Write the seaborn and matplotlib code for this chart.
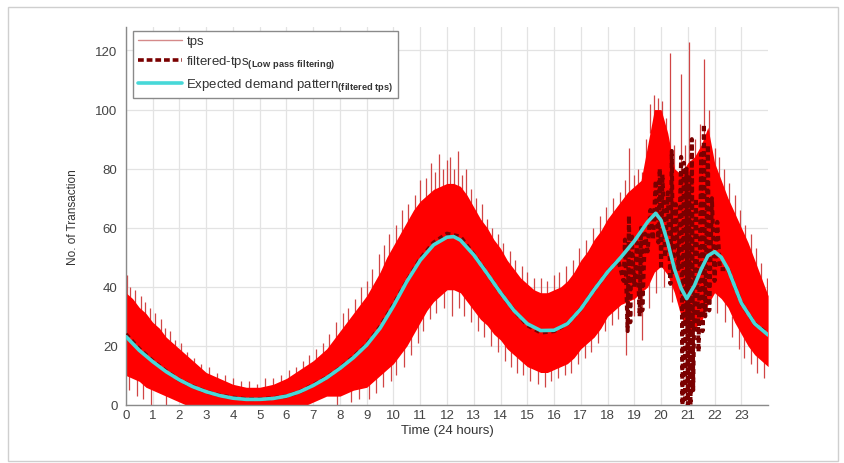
import numpy as np
import pandas as pd
import seaborn as sns
import matplotlib
matplotlib.use("Agg")
import matplotlib.pyplot as plt
from matplotlib.lines import Line2D
from matplotlib.patches import Rectangle

# ---------------- data ----------------
# noisy tps band: upper / lower edge, every quarter hour 0..24
band_hours = [i / 4 for i in range(97)]
tps_high = [38, 36, 33, 31, 28, 26, 23, 21, 19, 17, 15, 13, 11, 10, 9, 8,
            7, 6.5, 6, 6, 6, 6.5, 7, 8, 9, 10.5, 12, 13.5, 15, 17, 19, 22,
            25, 28, 31, 34, 37, 41, 45, 50, 54, 58, 62, 66, 69, 71, 73, 74,
            75, 75, 74, 71, 67, 63, 60, 56, 53, 49, 46, 43, 41, 39, 38, 38,
            39, 40, 42, 45, 49, 52, 56, 59, 63, 66, 69, 72, 74, 76, 88, 100,
            100, 92, 80, 78, 82, 84, 88, 94, 82, 76, 70, 65, 60, 55, 49, 43,
            37]
tps_low = [10, 9, 8, 6, 5, 4, 3, 2, 1, 0, 0, 0, 0, 0, 0, 0,
           0, 0, 0, 0, 0, 0, 0, 0, 0, 0, 0, 0, 1, 2, 3, 3,
           3, 4, 5, 5.5, 6, 8, 10, 12, 14, 17, 20, 24, 28, 32, 35, 37,
           39, 39, 38, 35, 32, 29, 27, 24, 22, 19, 17, 15, 13, 12, 11, 11,
           12, 13, 14, 16, 19, 21, 23, 26, 30, 32, 34, 35, 36, 38, 40, 45,
           47, 44, 38, 30, 25, 26, 28, 34, 38, 36, 33, 28, 24, 20, 17, 15,
           13]

# thin spikes of the raw tps trace: hour, from, to
spike_hours = [0.05, 0.15, 0.35, 0.55, 0.7, 0.9, 1.1, 1.3, 1.45, 1.65, 1.85, 2.05,
               2.3, 2.55, 2.8, 3.1, 3.4, 3.7, 4.0, 4.3, 4.6, 4.9, 5.2, 5.5, 5.8,
               6.1, 6.35, 6.6, 6.85, 7.1, 7.35, 7.6, 7.85, 8.1, 8.3, 8.55, 8.8,
               9.0, 9.2, 9.45, 9.65, 9.85, 10.1, 10.3, 10.55, 10.8, 11.0, 11.2,
               11.4, 11.55, 11.7, 11.85, 12.0, 12.1, 12.25, 12.4, 12.55, 12.7,
               12.9, 13.1, 13.3, 13.5, 13.7, 13.9, 14.1, 14.35, 14.55, 14.8, 15.0,
               15.25, 15.5, 15.75, 16.0, 16.2, 16.45, 16.7, 16.95, 17.2, 17.45,
               17.7, 17.95, 18.2, 18.45, 18.65, 18.8, 19.0, 19.15, 19.3, 19.45,
               19.6, 19.75, 19.9, 20.05, 20.2, 20.35, 20.5, 20.75, 20.9, 21.05,
               21.25, 21.45, 21.6, 21.8, 22.0, 22.15, 22.35, 22.55, 22.75, 22.95,
               23.15, 23.35, 23.55, 23.75, 23.95,
               0.1, 0.4, 0.65, 0.95, 1.5, 7.9, 8.4, 8.7, 9.1, 9.35, 9.6, 9.9, 10.1,
               10.4, 10.65, 10.9, 11.1, 11.35, 11.6, 11.9, 12.2, 12.45, 12.65,
               12.9, 13.15, 13.4, 13.65, 13.9, 14.15, 14.4, 14.6, 14.85, 15.1,
               15.4, 15.65, 15.9, 16.15, 16.4, 16.65, 16.9, 17.15, 17.4, 17.65,
               17.9, 18.15, 18.4, 18.7, 19.0, 19.3, 19.55, 19.8, 20.1, 20.4, 22.1,
               22.4, 22.65, 22.9, 23.1, 23.35, 23.6, 23.85]
spike_from = [35, 34, 32, 30, 28, 26, 24, 22, 20, 18, 16, 14,
              12, 10, 8, 7, 6, 5, 4, 3, 3, 3, 3, 4, 5,
              6, 7, 9, 10, 12, 14, 17, 20, 23, 25, 28, 31,
              34, 37, 41, 45, 49, 52, 56, 60, 63, 66, 68,
              70, 70, 71, 72, 72, 72, 72, 72, 70, 68,
              65, 62, 59, 56, 53, 50, 47, 44, 42, 39, 37,
              35, 35, 35, 36, 37, 39, 41, 45, 48, 52,
              55, 59, 62, 66, 68, 70, 70, 72, 72, 80,
              92, 96, 96, 96, 88, 85, 76, 74, 76, 78,
              80, 84, 88, 88, 78, 74, 70, 66, 62, 57,
              53, 49, 45, 40, 35,
              5, 3, 2, 0, 0, 0, 1, 2, 2, 4, 6, 8, 10,
              13, 17, 21, 25, 29, 31, 33, 30, 33, 30,
              28, 25, 23, 20, 18, 15, 13, 11, 10, 8,
              7, 6, 8, 9, 10, 11, 14, 16, 18, 21,
              25, 27, 29, 17, 30, 22, 33, 38, 40, 35, 31,
              28, 23, 19, 16, 14, 11, 9]
spike_to = [44, 40, 39, 37, 35, 33, 31, 29, 26, 25, 22, 21,
            18, 16, 14, 13, 11, 10, 9, 8, 8, 7, 9, 9, 10,
            12, 13, 15, 17, 19, 21, 24, 28, 31, 33, 36, 40,
            42, 46, 51, 54, 58, 61, 66, 68, 71, 76, 77,
            82, 79, 85, 80, 83, 84, 80, 86, 78, 80,
            73, 70, 68, 63, 60, 58, 55, 52, 49, 47, 45,
            43, 43, 42, 44, 45, 47, 49, 53, 56, 60,
            64, 67, 70, 72, 76, 87, 78, 80, 79, 90,
            102, 105, 104, 103, 97, 119, 88, 112, 88, 123,
            90, 95, 117, 100, 87, 84, 80, 75, 71, 66,
            61, 58, 53, 48, 43,
            12, 10, 9, 7, 4, 5, 6, 8, 9, 11, 13, 15, 17,
            21, 25, 30, 33, 36, 38, 40, 41, 40, 37,
            35, 32, 30, 27, 25, 22, 20, 18, 16, 14,
            13, 13, 14, 15, 16, 18, 21, 23, 25, 28,
            32, 34, 36, 37, 38, 40, 42, 47, 49, 42, 40,
            35, 30, 27, 25, 22, 19, 16]

# low-pass filtered tps
filt_hours = [0.0, 0.5, 1.0, 1.5, 2.0, 2.5, 3.0, 3.5, 4.0, 4.5, 5.0, 5.5, 6.0, 6.5,
              7.0, 7.5, 8.0, 8.5, 9.0, 9.5, 10.0, 10.5, 11.0, 11.5, 12.0, 12.5,
              13.0, 13.5, 14.0, 14.5, 15.0, 15.5, 16.0, 16.5, 17.0, 17.5, 18.0, 18.4,
              18.6, 18.65, 18.75, 18.8, 18.85, 18.9, 19.0, 19.1, 19.2, 19.25, 19.3,
              19.4, 19.5, 19.6, 19.7, 19.8, 19.9, 19.95, 20.0, 20.05, 20.15, 20.25,
              20.35, 20.4, 20.45, 20.55, 20.65, 20.75, 20.8, 20.85, 20.9, 20.95,
              21.0, 21.05, 21.1, 21.15, 21.2, 21.3, 21.4, 21.5, 21.55, 21.6, 21.65,
              21.75, 21.8, 21.9, 22.0, 22.1, 22.2, 22.5, 23.0, 23.5, 24.0]
filt_tps = [24, 19, 15, 11.5, 8.5, 6.3, 4.5, 3.3, 2.5, 2.0, 2.0, 2.3, 3.0, 4.5,
            6.8, 9.3, 12.5, 16.3, 20.5, 26.5, 34, 42, 49.5, 55, 58, 57,
            51, 44.5, 38, 32, 27, 24.5, 25, 27.5, 32.5, 39, 45, 49,
            42, 56, 25, 64, 28, 58, 40, 55, 30, 60, 32,
            58, 52, 66, 56, 76, 55, 80, 46, 78, 50, 72,
            41, 86, 45, 68, 46, 84, 0, 82, 2, 80,
            0, 78, 0, 90, 5, 70, 18, 85, 25, 95, 30,
            88, 32, 70, 42, 62, 46, 46, 34.5, 27.5, 24]

# expected demand pattern
exp_hours = [0.0, 0.5, 1.0, 1.5, 2.0, 2.5, 3.0, 3.5, 4.0, 4.5, 5.0, 5.5, 6.0, 6.5,
             7.0, 7.5, 8.0, 8.5, 9.0, 9.5, 10.0, 10.5, 11.0, 11.5, 12.0, 12.25, 12.5,
             13.0, 13.5, 14.0, 14.5, 15.0, 15.5, 16.0, 16.5, 17.0, 17.5, 18.0,
             18.5, 19.0, 19.5, 19.8, 20.0, 20.25, 20.5, 20.75, 20.96, 21.25, 21.5,
             21.75, 22.0, 22.25, 22.5, 23.0, 23.5, 24.0]
exp_tps = [23.2, 18.5, 14.7, 11.3, 8.5, 6.2, 4.5, 3.2, 2.3, 1.9, 1.9, 2.2, 3.0, 4.5,
           6.6, 9.2, 12.4, 16.0, 20.3, 26.0, 33.5, 41.8, 49.0, 54.2, 56.8, 57.0, 55.8,
           50.8, 44.5, 38.0, 32.0, 27.5, 25.2, 25.3, 27.5, 32.5, 39.0, 45.0,
           50.0, 55.5, 62.0, 64.9, 62.5, 55.0, 46.0, 39.5, 36.0, 40.5, 46.0,
           50.5, 51.9, 50.0, 46.0, 34.5, 27.5, 23.7]

x_ticks = list(range(0, 24))
y_ticks = [0, 20, 40, 60, 80, 100, 120]

# ---------------- plotting ----------------
sns.set_style("white")
plt.rcParams["font.family"] = ["Liberation Sans", "DejaVu Sans"]
plt.rcParams["mathtext.fontset"] = "custom"
plt.rcParams["mathtext.rm"] = "Liberation Sans"
plt.rcParams["mathtext.bf"] = "Liberation Sans:bold"

fig = plt.figure(figsize=(8.45, 4.64), dpi=100)
ax = fig.add_axes([0.149, 0.125, 0.760, 0.815])

red = "#ff0000"
spike_col = "#d04545"
filt_col = "#7a0000"
cyan = "#47d8d8"

ax.fill_between(band_hours, tps_low, tps_high, color=red, lw=0, zorder=2)
ax.vlines(spike_hours, spike_from, spike_to, color=spike_col, lw=0.9, zorder=1.9)

df_f = pd.DataFrame({"hour": filt_hours, "tps": filt_tps})
sns.lineplot(data=df_f, x="hour", y="tps", ax=ax, sort=False, color=filt_col,
             lw=2.9, linestyle=(0, (1.2, 0.9)), zorder=3, estimator=None)

df_e = pd.DataFrame({"hour": exp_hours, "tps": exp_tps})
sns.lineplot(data=df_e, x="hour", y="tps", ax=ax, sort=False, color=cyan,
             lw=2.6, zorder=4, estimator=None)

ax.set_xlim(0, 24)
ax.set_ylim(0, 128)
ax.set_xticks(x_ticks)
ax.set_yticks(y_ticks)
ax.grid(True, color="#e3e3e3", lw=0.9, zorder=0)
ax.set_axisbelow(True)
for s in ["top", "right"]:
    ax.spines[s].set_visible(False)
for s in ["left", "bottom"]:
    ax.spines[s].set_color("#8a8a8a")
    ax.spines[s].set_linewidth(1.0)
ax.tick_params(axis="x", direction="in", length=4, color="#777777",
               labelsize=9.5, labelcolor="#444444", pad=3)
ax.tick_params(axis="y", direction="out", length=4, color="#777777",
               labelsize=9.5, labelcolor="#444444", pad=2)
ax.set_xlabel("Time (24 hours)", fontsize=9.5, color="#333333", labelpad=2)
ax.set_ylabel("No. of Transaction", fontsize=8.5, color="#333333", labelpad=12)

handles = [
    Line2D([], [], color="#d58a8a", lw=1.0),
    Line2D([], [], color=filt_col, lw=2.6, linestyle=(0, (1.6, 0.8))),
    Line2D([], [], color=cyan, lw=2.6),
]
labels = [
    "tps",
    r"filtered-tps$_{\mathbf{(Low\ pass\ filtering)}}$",
    r"Expected demand pattern$_{\mathbf{(filtered\ tps)}}$",
]
leg = ax.legend(handles, labels, loc="upper left", bbox_to_anchor=(0.011, 0.99),
                borderaxespad=0, fontsize=9.5, handlelength=3.4, handletextpad=0.3,
                labelspacing=0.45, borderpad=0.35, fancybox=False, framealpha=1,
                edgecolor="#8a8a8a", facecolor="white")
leg.get_frame().set_linewidth(1.0)
for t in leg.get_texts():
    t.set_color("#333333")

# outer frame of the screenshot
fig.patches.append(Rectangle((8 / 845, 2 / 464), 830 / 845, 454 / 464,
                             transform=fig.transFigure, fill=False,
                             edgecolor="#cfcfcf", lw=1.0))

fig.savefig("out.png", dpi=100)
